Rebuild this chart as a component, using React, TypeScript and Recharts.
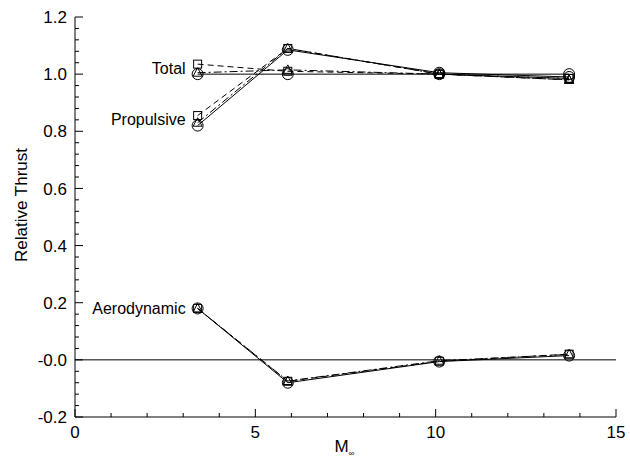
import { LineChart, Line, XAxis, YAxis, ReferenceLine } from "recharts";

// Mach numbers of the four cases
const machNumbers = [3.4, 5.9, 10.1, 13.7];

// Total thrust
const totalCircle = [1.0, 1.0, 1.0, 1.0];
const totalSquare = [1.035, 1.01, 1.0, 0.985];
const totalTriangle = [1.005, 1.015, 1.0, 0.98];

// Propulsive thrust
const propCircle = [0.82, 1.085, 1.005, 0.99];
const propSquare = [0.855, 1.09, 1.0, 0.985];
const propTriangle = [0.83, 1.09, 1.0, 0.98];

// Aerodynamic thrust
const aeroCircle = [0.18, -0.08, -0.006, 0.015];
const aeroSquare = [0.18, -0.075, -0.005, 0.02];
const aeroTriangle = [0.18, -0.074, -0.003, 0.019];

const xMajorTicks = [0, 5, 10, 15];
const xTickLabels = ["0", "5", "10", "15"];
const xAllTicks = [0, 1, 2, 3, 4, 5, 6, 7, 8, 9, 10, 11, 12, 13, 14, 15];

const yMajorTicks = [-0.2, 0, 0.2, 0.4, 0.6, 0.8, 1.0, 1.2];
const yTickLabels = ["-0.2", "-0.0", "0.2", "0.4", "0.6", "0.8", "1.0", "1.2"];
// minor ticks every 0.04
const yAllTicks = Array.from({ length: 36 }, (_, i) => Math.round((-0.2 + i * 0.04) * 100) / 100);

const seriesNames = ["Total", "Propulsive", "Aerodynamic"];

const FONT = "'Liberation Sans', Arial, Helvetica, sans-serif";
const W = 630;
const H = 458;
const Y_AXIS_W = 75;
const X_AXIS_H = 41;

const toPoints = (vals: number[]) => machNumbers.map((m, i) => ({ x: m, y: vals[i] }));

const isMajor = (list: number[], v: number) => list.findIndex((t) => Math.abs(t - v) < 1e-6);

const YTick = (props: any) => {
  const { x, y, payload } = props;
  const idx = isMajor(yMajorTicks, payload.value);
  const ax = x + 8;
  return (
    <g>
      <line x1={ax} x2={ax + (idx >= 0 ? 8 : 4)} y1={y} y2={y} stroke="#000" strokeWidth={1} />
      {idx >= 0 && (
        <text x={x} y={y} dy="0.36em" textAnchor="end" fontFamily={FONT} fontSize={17} fill="#000">
          {yTickLabels[idx]}
        </text>
      )}
    </g>
  );
};

const XTick = (props: any) => {
  const { x, y, payload } = props;
  const idx = isMajor(xMajorTicks, payload.value);
  const ay = y - 9;
  return (
    <g>
      <line x1={x} x2={x} y1={ay} y2={ay - (idx >= 0 ? 8 : 4)} stroke="#000" strokeWidth={1} />
      {idx >= 0 && (
        <text x={x} y={y} dy="0.72em" textAnchor="middle" fontFamily={FONT} fontSize={17} fill="#000">
          {xTickLabels[idx]}
        </text>
      )}
    </g>
  );
};

const circleDot = (props: any) => {
  const { cx, cy, index } = props;
  return <circle key={`c${index}-${cx}`} cx={cx} cy={cy} r={5.5} fill="none" stroke="#000" strokeWidth={1} />;
};

const squareDot = (props: any) => {
  const { cx, cy, index } = props;
  return <rect key={`s${index}-${cx}`} x={cx - 4} y={cy - 4} width={8} height={8} fill="none" stroke="#000" strokeWidth={1} />;
};

const triangleDot = (props: any) => {
  const { cx, cy, index } = props;
  return (
    <polygon
      key={`t${index}-${cx}`}
      points={`${cx},${cy - 5} ${cx - 4.5},${cy + 3.5} ${cx + 4.5},${cy + 3.5}`}
      fill="none"
      stroke="#000"
      strokeWidth={1}
    />
  );
};

const nameLabel = (name: string, dy: number) => (props: any) => {
  const { x, y, index } = props;
  if (index !== 0) return null;
  return (
    <text key={name} x={x - 12} y={y + dy} dy="0.36em" textAnchor="end" fontFamily={FONT} fontSize={16} fill="#000">
      {name}
    </text>
  );
};

const groups = [
  { circle: totalCircle, square: totalSquare, triangle: totalTriangle, labelDy: -6 },
  { circle: propCircle, square: propSquare, triangle: propTriangle, labelDy: -6 },
  { circle: aeroCircle, square: aeroSquare, triangle: aeroTriangle, labelDy: 0 },
];

export default function App() {
  return (
    <div style={{ position: "absolute", left: 0, top: 0, background: "#fff" }}>
      <LineChart width={W} height={H} margin={{ top: 17, right: 14, bottom: 0, left: 0 }}>
        <XAxis
          type="number"
          dataKey="x"
          domain={[0, 15]}
          ticks={xAllTicks}
          interval={0}
          height={X_AXIS_H}
          tickSize={0}
          tickMargin={9}
          tickLine={false}
          tick={<XTick />}
          axisLine={{ stroke: "#000", strokeWidth: 1 }}
          allowDataOverflow
          label={(p: any) => {
            const vb = p.viewBox;
            const cx = vb.x + vb.width / 2;
            return (
              <g>
                <text x={cx - 11} y={vb.y + 35} fontFamily={FONT} fontSize={17} fill="#000">
                  M
                </text>
                <text x={cx + 3} y={vb.y + 39} fontFamily={FONT} fontSize={8} fill="#000">
                  ∞
                </text>
              </g>
            );
          }}
        />
        <YAxis
          type="number"
          dataKey="y"
          domain={[-0.2, 1.2]}
          ticks={yAllTicks}
          interval={0}
          width={Y_AXIS_W}
          tickSize={0}
          tickMargin={8}
          tickLine={false}
          tick={<YTick />}
          axisLine={{ stroke: "#000", strokeWidth: 1 }}
          allowDataOverflow
          label={(p: any) => {
            const vb = p.viewBox;
            const cx = vb.x + 27;
            const cy = vb.y + vb.height / 2 - 12;
            return (
              <text
                x={cx}
                y={cy}
                transform={`rotate(-90 ${cx} ${cy})`}
                textAnchor="middle"
                fontFamily={FONT}
                fontSize={17}
                fill="#000"
              >
                Relative Thrust
              </text>
            );
          }}
        />
        <ReferenceLine y={0} stroke="#000" strokeWidth={1} />
        {groups.map((g, gi) => [
          <Line
            key={`c${gi}`}
            data={toPoints(g.circle)}
            dataKey="y"
            stroke="#000"
            strokeWidth={1}
            dot={circleDot}
            activeDot={false}
            isAnimationActive={false}
            label={nameLabel(seriesNames[gi], g.labelDy)}
          />,
          <Line
            key={`s${gi}`}
            data={toPoints(g.square)}
            dataKey="y"
            stroke="#000"
            strokeWidth={1}
            strokeDasharray="6 4"
            dot={squareDot}
            activeDot={false}
            isAnimationActive={false}
          />,
          <Line
            key={`t${gi}`}
            data={toPoints(g.triangle)}
            dataKey="y"
            stroke="#000"
            strokeWidth={1}
            strokeDasharray="8 3 2 3"
            dot={triangleDot}
            activeDot={false}
            isAnimationActive={false}
          />,
        ])}
      </LineChart>
    </div>
  );
}
